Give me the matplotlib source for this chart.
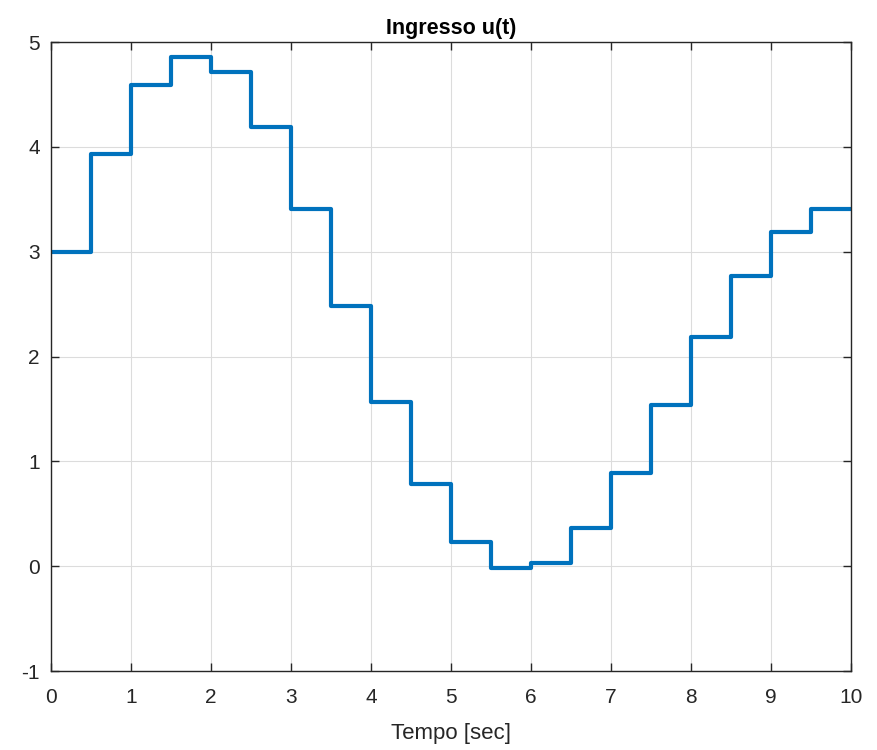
import matplotlib
matplotlib.use('Agg')
import matplotlib.pyplot as plt
import numpy as np

plt.rcParams['font.family'] = ['Liberation Sans', 'DejaVu Sans']
plt.rcParams['axes.unicode_minus'] = False

# valori del segnale campionato (tenuto costante ogni 0.5 s)
t_steps = [0.0, 0.5, 1.0, 1.5, 2.0, 2.5, 3.0, 3.5, 4.0, 4.5,
           5.0, 5.5, 6.0, 6.5, 7.0, 7.5, 8.0, 8.5, 9.0, 9.5, 10.0]
u_vals = [3.00, 3.93, 4.59, 4.86, 4.71, 4.19, 3.41, 2.48, 1.57, 0.78,
          0.23, -0.02, 0.03, 0.36, 0.89, 1.54, 2.19, 2.77, 3.19, 3.41, 3.41]

x_ticks = list(range(0, 11))
y_ticks = [-1, 0, 1, 2, 3, 4, 5]

fig = plt.figure(figsize=(8.77, 7.5), dpi=100)
ax = fig.add_axes([0.0582, 0.1053, 0.9121, 0.8387])

ax.step(t_steps, u_vals, where="post", color="#0072BD", linewidth=3.0)

ax.set_xlim(0, 10)
ax.set_ylim(-1, 5)
ax.set_xticks(x_ticks)
ax.set_yticks(y_ticks)
ax.grid(True, color="#dcdcdc", linewidth=0.8)
ax.set_axisbelow(True)

ax.tick_params(direction="in", length=6, width=1, top=True, right=True,
               labelsize=15, colors="#262626")
ax.tick_params(axis="x", pad=12)
ax.tick_params(axis="y", pad=8)
for s in ax.spines.values():
    s.set_color("#262626")
    s.set_linewidth(1)

ax.set_xlabel("Tempo [sec]", fontsize=16, color="#262626", labelpad=12)
ax.set_title("Ingresso u(t)", fontsize=15.5, fontweight="bold", pad=6)

fig.savefig("out.png", dpi=100)
